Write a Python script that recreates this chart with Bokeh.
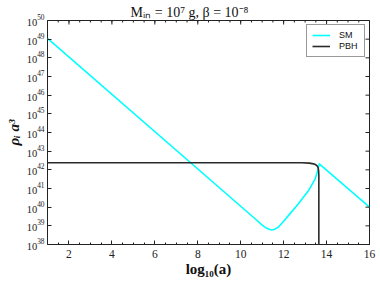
import numpy as np
from bokeh.plotting import figure
from bokeh.models import FixedTicker, Range1d, LogTickFormatter
from bokeh.embed import file_html
from bokeh.resources import INLINE

# ---- data: log10(a) and log10(rho * a^3) ----
log_a_sm = [1.0, 10.67, 11.0, 11.2, 11.35, 11.45, 11.55, 11.65, 11.76, 12.0, 12.23, 12.69,
            13.16, 13.47, 13.59, 13.66, 16.0]
log_rho_sm = [49.04, 39.38, 39.04, 38.88, 38.8, 38.78, 38.8, 38.86, 38.94, 39.25, 39.56, 40.18,
              40.89, 41.52, 41.97, 42.32, 40.0]
log_a_pbh = [1.0, 12.85, 13.2, 13.39, 13.5, 13.57, 13.61, 13.63, 13.64, 13.64]
log_rho_pbh = [42.38, 42.38, 42.36, 42.32, 42.27, 42.2, 42.1, 41.95, 41.7, 36.0]
x_major = [2, 4, 6, 8, 10, 12, 14, 16]
x_minor = [1.0 + 0.5 * i for i in range(31)]
y_decades = list(range(38, 51))

title_text = "Mᵢₙ = 10⁷ g,  β = 10⁻⁸"
x_label = "log₁₀(a)"
y_label = "ρᵢ a³"

x_range = (1, 16)
y_range = (1e38, 1e50)

SERIF = "Liberation Serif"
SANS = "Liberation Sans"
INK = "#222222"

p = figure(width=380, height=283,
           x_range=Range1d(*x_range), y_range=Range1d(*y_range),
           y_axis_type="log", output_backend="svg", toolbar_location=None,
           min_border_left=47, min_border_right=11, min_border_top=20, min_border_bottom=39)
p.background_fill_color = "white"
p.border_fill_color = "white"
p.outline_line_color = INK
p.outline_line_width = 1
p.grid.visible = False

# title
p.title.text = title_text
p.title.align = "left"
p.title.offset = 83
p.title.standoff = 2
p.title.text_font = SERIF
p.title.text_font_style = "normal"
p.title.text_font_size = "14px"
p.title.text_color = "#111111"

y_ticks = [float(10.0 ** k) for k in y_decades]

# lines
p.line(np.array(log_a_sm), 10.0 ** np.array(log_rho_sm), line_color="#00ffff", line_width=1.6,
       line_join="round", legend_label="SM")
p.line(np.array(log_a_pbh), 10.0 ** np.array(log_rho_pbh), line_color="#2a2a2a", line_width=1.6,
       line_join="round", legend_label="PBH")

# inward ticks on the top and right edges (half of each dash is clipped by the frame)
p.scatter(x_major, [y_range[1]] * len(x_major), marker="dash", angle=np.pi / 2, size=8,
          line_color=INK, line_width=1)
p.scatter(x_minor, [y_range[1]] * len(x_minor), marker="dash", angle=np.pi / 2, size=4,
          line_color=INK, line_width=1)
p.scatter([x_range[1]] * len(y_ticks), y_ticks, marker="dash", size=8,
          line_color=INK, line_width=1)

# bottom axis
xa = p.xaxis[0]
xa.ticker = FixedTicker(ticks=x_major, minor_ticks=x_minor)
xa.major_tick_in = 4
xa.major_tick_out = 0
xa.minor_tick_in = 2
xa.minor_tick_out = 0
xa.axis_line_color = None
xa.major_tick_line_color = INK
xa.minor_tick_line_color = INK
xa.major_label_text_font = SERIF
xa.major_label_text_font_size = "11.5px"
xa.major_label_text_color = INK
xa.major_label_standoff = 5
xa.axis_label = x_label
xa.axis_label_text_font = SERIF
xa.axis_label_text_font_style = "bold"
xa.axis_label_text_font_size = "15px"
xa.axis_label_text_color = "#111111"
xa.axis_label_standoff = 0

# left axis
ya = p.yaxis[0]
ya.ticker = FixedTicker(ticks=y_ticks, minor_ticks=[])
ya.formatter = LogTickFormatter()
ya.major_tick_in = 4
ya.major_tick_out = 0
ya.minor_tick_in = 0
ya.minor_tick_out = 0
ya.axis_line_color = None
ya.major_tick_line_color = INK
ya.major_label_text_font = SERIF
ya.major_label_text_font_size = "10.5px"
ya.major_label_text_color = INK
ya.major_label_standoff = 3
ya.axis_label = y_label
ya.axis_label_text_font = SERIF
ya.axis_label_text_font_style = "bold italic"
ya.axis_label_text_font_size = "15px"
ya.axis_label_text_color = "#111111"
ya.axis_label_standoff = 2

# legend
lg = p.legend[0]
lg.location = "top_right"
lg.margin = 4
lg.padding = 5
lg.spacing = 1
lg.glyph_width = 18
lg.glyph_height = 10
lg.label_height = 10
lg.label_standoff = 9
lg.label_text_font = SANS
lg.label_text_font_size = "9px"
lg.label_text_color = "#111111"
lg.border_line_color = "#333333"
lg.border_line_width = 1
lg.background_fill_alpha = 1.0

open("out.html", "w").write(file_html(p, INLINE))
